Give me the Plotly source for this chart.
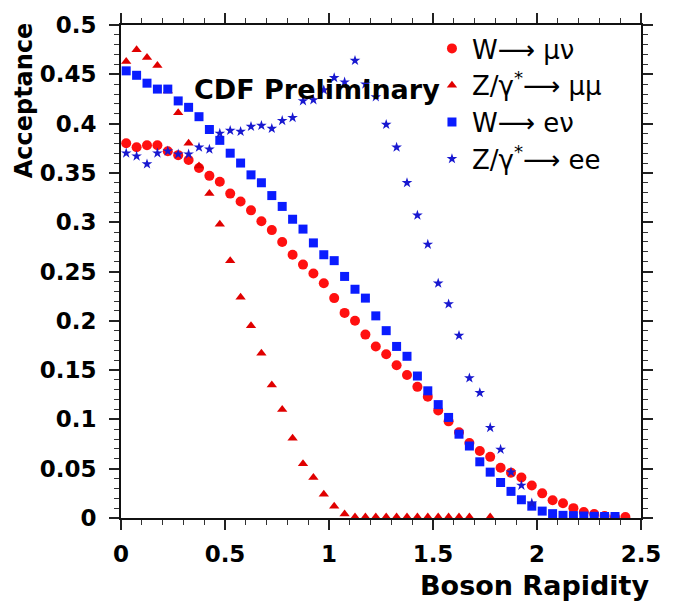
import plotly.graph_objects as go

# Bin centres of boson rapidity
rapidity = [0.025, 0.075, 0.125, 0.175, 0.225, 0.275, 0.325, 0.375, 0.425, 0.475,
            0.525, 0.575, 0.625, 0.675, 0.725, 0.775, 0.825, 0.875, 0.925, 0.975,
            1.025, 1.075, 1.125, 1.175, 1.225, 1.275, 1.325, 1.375, 1.425, 1.475,
            1.525, 1.575, 1.625, 1.675, 1.725, 1.775, 1.825, 1.875, 1.925, 1.975,
            2.025, 2.075, 2.125, 2.175, 2.225, 2.275, 2.325, 2.375, 2.425]

w_munu = [0.380, 0.376, 0.378, 0.378, 0.372, 0.368, 0.363, 0.355, 0.347, 0.341,
          0.329, 0.321, 0.312, 0.301, 0.292, 0.280, 0.267, 0.257, 0.248, 0.238,
          0.223, 0.208, 0.200, 0.186, 0.174, 0.166, 0.155, 0.145, 0.133, 0.123,
          0.109, 0.098, 0.087, 0.076, 0.068, 0.062, 0.051, 0.046, 0.041, 0.033,
          0.025, 0.018, 0.015, 0.010, 0.006, 0.004, 0.002, 0.001, 0.001]

z_mumu = [0.463, 0.475, 0.467, 0.459, 0.433, 0.411, 0.380, 0.357, 0.329, 0.298,
          0.261, 0.224, 0.195, 0.167, 0.135, 0.110, 0.081, 0.055, 0.041, 0.024,
          0.012, 0.004, 0.001, 0.001, 0.001, 0.001, 0.001, 0.001, 0.001, 0.001,
          0.001, 0.001, 0.001, 0.001, None, 0.001]

w_enu = [0.4535, 0.449, 0.441, 0.435, 0.435, 0.423, 0.4165, 0.407, 0.394, 0.383,
         0.370, 0.360, 0.348, 0.340, 0.327, 0.316, 0.303, 0.293, 0.279, 0.267,
         0.261, 0.245, 0.232, 0.223, 0.205, 0.190, 0.174, 0.164, 0.144, 0.129,
         0.115, 0.102, 0.085, 0.073, 0.057, 0.0465, 0.036, 0.027, 0.0185, 0.012,
         0.007, 0.0044, 0.0027, 0.0024, 0.002, 0.0017, 0.0015, 0.0015]

z_ee = [0.370, 0.367, 0.359, 0.370, 0.372, 0.369, 0.369, 0.376, 0.374, 0.390,
        0.393, 0.392, 0.397, 0.398, 0.395, 0.403, 0.406, 0.423, 0.424, 0.434,
        0.4465, 0.442, 0.464, 0.440, 0.427, 0.399, 0.376, 0.340, 0.307, 0.2775,
        0.238, 0.217, 0.185, 0.142, 0.127, 0.0916, 0.0695, 0.0465, 0.033, 0.015]

names = ["W⟶ μν", "Z/γ<sup>*</sup>⟶ μμ", "W⟶ eν", "Z/γ<sup>*</sup>⟶ ee"]

fig = go.Figure()
fig.add_trace(go.Scatter(x=rapidity[:len(w_munu)], y=w_munu, mode="markers", name=names[0],
                         marker=dict(symbol="circle", size=10, color="#ff1010")))
fig.add_trace(go.Scatter(x=rapidity[:len(z_mumu)], y=z_mumu, mode="markers", name=names[1],
                         marker=dict(symbol="triangle-up", size=9, color="#e00000")))
fig.add_trace(go.Scatter(x=rapidity[:len(w_enu)], y=w_enu, mode="markers", name=names[2],
                         marker=dict(symbol="square", size=9, color="#0a1cff")))
fig.add_trace(go.Scatter(x=rapidity[:len(z_ee)], y=z_ee, mode="markers", name=names[3],
                         marker=dict(symbol="star", size=8, color="#1818d0")))

tickfont = dict(family="DejaVu Sans", size=23, color="black", weight="bold")
axis_common = dict(
    showline=True, linecolor="#111111", linewidth=2, mirror="allticks",
    ticks="outside", ticklen=10, tickwidth=1.5, tickcolor="#222222",
    showgrid=False, zeroline=False, tickfont=tickfont,
)

fig.update_xaxes(range=[0, 2.5], dtick=0.5, tick0=0,
                 minor=dict(dtick=0.1, ticks="outside", ticklen=5, tickwidth=1, tickcolor="#333333"),
                 ticklabelstandoff=4, **axis_common)
fig.update_yaxes(range=[0, 0.5], dtick=0.05, tick0=0,
                 minor=dict(dtick=0.01, ticks="outside", ticklen=5, tickwidth=1, tickcolor="#333333"),
                 ticklabelstandoff=8, **axis_common)

fig.add_annotation(text="CDF Preliminary", xref="x", yref="y", x=0.34, y=0.435,
                   xanchor="left", yanchor="middle", showarrow=False,
                   font=dict(family="DejaVu Sans", size=27, color="black", weight="bold"))
fig.add_annotation(text="Acceptance", xref="paper", yref="paper", x=-0.186, y=1.01,
                   xanchor="center", yanchor="top", textangle=-90, showarrow=False,
                   font=dict(family="DejaVu Sans", size=24, color="black", weight="bold"))
fig.add_annotation(text="Boson Rapidity", xref="paper", yref="paper", x=1.02, y=-0.102,
                   xanchor="right", yanchor="top", showarrow=False,
                   font=dict(family="DejaVu Sans", size=27, color="black", weight="bold"))

fig.update_layout(
    width=673, height=602,
    margin=dict(l=121, r=24, t=23, b=84),
    paper_bgcolor="white", plot_bgcolor="white",
    showlegend=True,
    legend=dict(x=0.598, y=1.0, xanchor="left", yanchor="top",
                bgcolor="rgba(0,0,0,0)", borderwidth=0,
                font=dict(family="DejaVu Sans", size=26, color="black"),
                itemsizing="trace", tracegroupgap=0),
)

fig.write_html("out.html")
